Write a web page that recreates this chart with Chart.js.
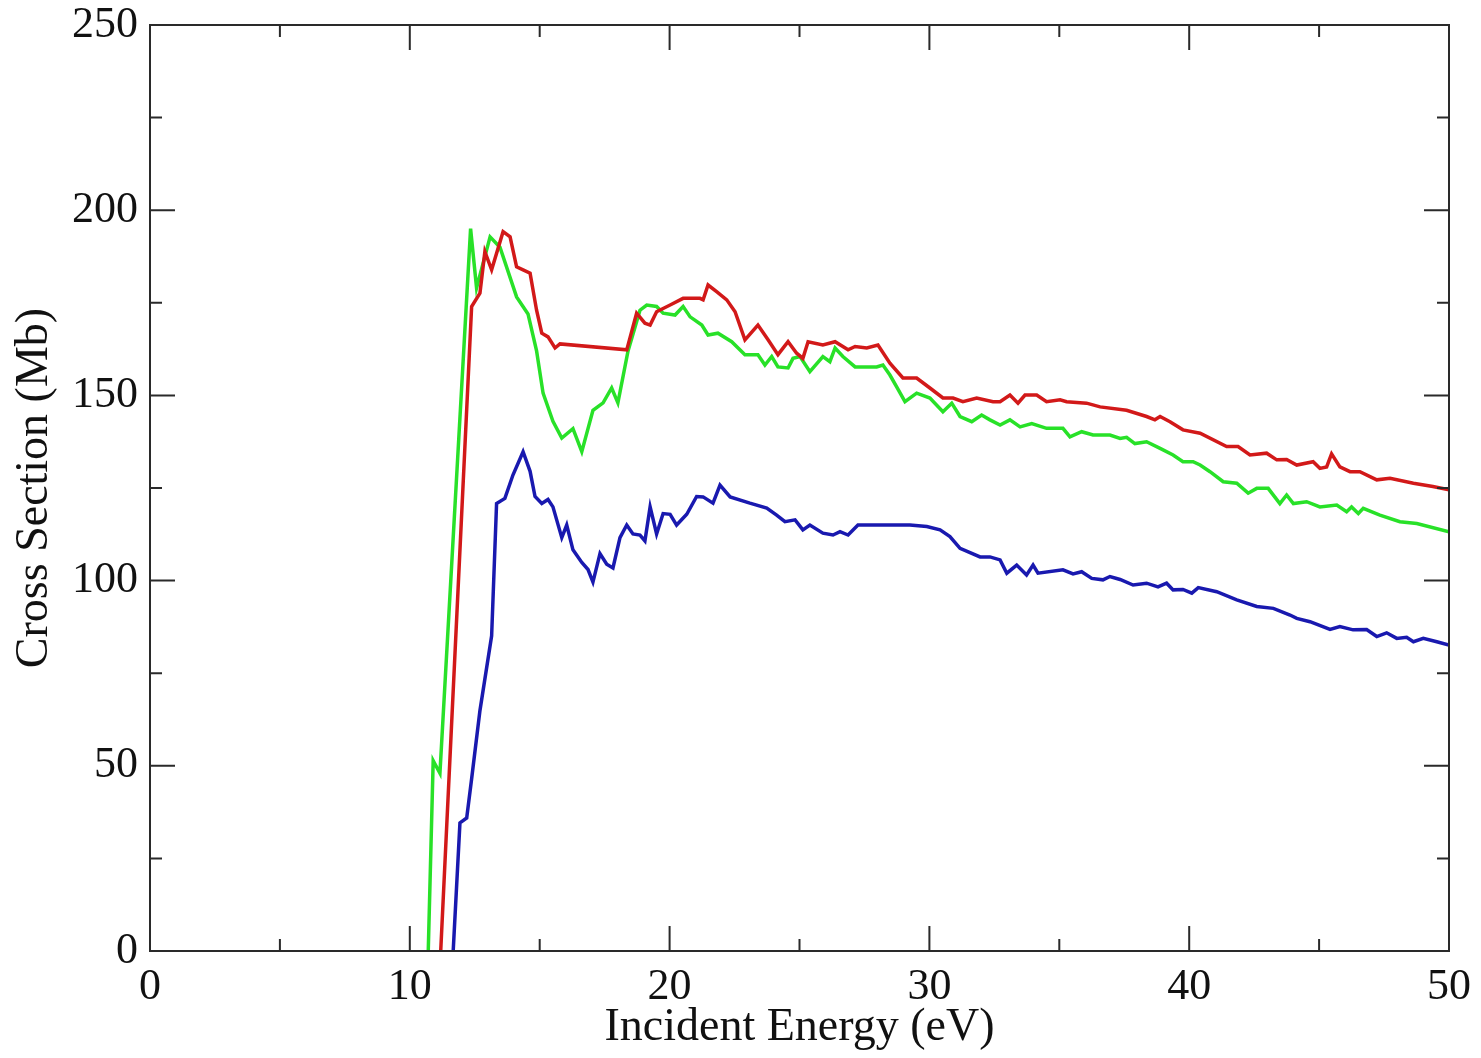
<!DOCTYPE html>
<html>
<head>
<meta charset="utf-8">
<script src="https://cdn.jsdelivr.net/npm/chart.js@4.4.1/dist/chart.umd.min.js"></script>
<style>
  html, body { margin: 0; padding: 0; background: #fff; }
  #wrap { width: 1481px; height: 1058px; position: relative; }
</style>
</head>
<body>
<div id="wrap"><canvas id="xsChart"></canvas></div>
<script>
// energies (eV) and cross sections (Mb)
const redE = [11.19, 12.38, 12.70, 12.89, 13.15, 13.59, 13.86, 14.11, 14.36, 14.63, 14.88, 15.08, 15.32, 15.59, 15.78,
  18.35, 18.73, 19.05, 19.25, 19.50, 20.02, 20.52, 21.17, 21.29, 21.48, 21.81, 22.20, 22.52, 22.90, 23.40, 23.79,
  24.17, 24.56, 24.89, 25.13, 25.33, 25.90, 26.37, 26.87, 27.14, 27.59, 28.02, 28.48, 28.98, 29.51, 30.02, 30.52,
  30.91, 31.29, 31.82, 32.45, 32.72, 33.10, 33.41, 33.68, 34.13, 34.51, 35.03, 35.28, 36.05, 36.57, 37.59, 38.36,
  38.68, 38.88, 39.26, 39.76, 40.42, 41.44, 41.88, 42.34, 42.98, 43.37, 43.75, 44.14, 44.77, 45.03, 45.29, 45.48,
  45.80, 46.19, 46.57, 47.22, 47.73, 48.63, 49.38, 50.0];
const redV = [0, 174, 177.6, 188.8, 183.9, 194.2, 192.8, 184.7, 183.9, 183, 173, 166.8, 165.8, 162.8, 163.9,
  162.3, 172.2, 169.5, 169, 172.6, 174.4, 176.2, 176.2, 175.8, 179.8, 178, 175.8, 172.6, 165, 169, 165,
  161, 164.5, 161.4, 160, 164.5, 163.6, 164.5, 162.3, 163.2, 162.8, 163.6, 158.7, 154.7, 154.7, 152, 149.3,
  149.3, 148.3, 149.3, 148.3, 148.3, 150.1, 147.9, 150.1, 150.1, 148.3, 148.8, 148.3, 147.9, 146.9, 146, 144.3,
  143.4, 144.3, 142.9, 140.7, 139.8, 136.2, 136.2, 133.9, 134.4, 132.6, 132.7, 131.2, 132.1, 130.3, 130.7, 134.2,
  130.7, 129.4, 129.4, 127.2, 127.6, 126.3, 125.4, 124.5];

const greenE = [10.71, 10.90, 11.16, 12.34, 12.57, 13.09, 13.47, 14.11, 14.55, 14.88, 15.13, 15.51, 15.85, 16.28, 16.62,
  17.05, 17.44, 17.77, 18.01, 18.40, 18.86, 19.12, 19.50, 19.75, 20.21, 20.52, 20.79, 21.24, 21.48, 21.86, 22.39,
  22.90, 23.40, 23.67, 23.93, 24.17, 24.56, 24.75, 25.02, 25.40, 25.90, 26.17, 26.37, 26.67, 27.14, 27.97, 28.21,
  28.48, 28.74, 29.06, 29.51, 30.02, 30.52, 30.86, 31.18, 31.63, 32.01, 32.33, 32.72, 33.10, 33.49, 33.94, 34.51,
  35.14, 35.41, 35.86, 36.30, 36.95, 37.34, 37.59, 37.91, 38.36, 38.88, 39.38, 39.76, 40.15, 40.42, 40.80, 41.31,
  41.83, 42.27, 42.60, 43.04, 43.49, 43.75, 44.01, 44.52, 45.03, 45.68, 46.06, 46.25, 46.51, 46.70, 47.34, 48.11,
  48.76, 50.0];
const greenV = [0, 51.4, 48, 195, 179, 192.8, 190, 176.6, 172, 162, 150.6, 143, 138.5, 141, 134.8,
  146, 148, 152, 148, 162, 173, 174.4, 174, 172.2, 171.7, 174, 171.2, 169, 166.3, 166.8, 164.5,
  161, 161, 158.2, 160.5, 157.7, 157.4, 160, 160.5, 156.4, 160.5, 159.1, 162.8, 160.5, 157.7, 157.7, 158.2,
  155.5, 152.3, 148.3, 150.6, 149.3, 145.6, 147.9, 144.3, 142.9, 144.7, 143.4, 142, 143.4, 141.5, 142.4, 141.1,
  141.1, 138.8, 140.2, 139.3, 139.3, 138.4, 138.7, 137, 137.5, 135.7, 133.9, 132.1, 132.1, 131.2, 129.4, 126.7,
  126.3, 123.6, 124.9, 124.9, 120.8, 123.1, 120.8, 121.3, 119.9, 120.4, 118.6, 119.9, 118.1, 119.5, 117.7, 115.9,
  115.4, 113.2];

const blueE = [11.67, 11.93, 12.19, 12.38, 12.70, 13.15, 13.34, 13.66, 13.97, 14.36, 14.63, 14.82, 15.08, 15.32, 15.51,
  15.85, 16.04, 16.28, 16.62, 16.86, 17.05, 17.32, 17.58, 17.82, 18.09, 18.35, 18.59, 18.86, 19.05, 19.25, 19.50,
  19.75, 20.02, 20.27, 20.66, 21.04, 21.29, 21.67, 21.94, 22.33, 23.09, 23.74, 24.12, 24.44, 24.83, 25.13, 25.40,
  25.90, 26.29, 26.56, 26.87, 27.25, 28.21, 29.25, 29.90, 30.41, 30.79, 31.18, 31.95, 32.33, 32.72, 32.98, 33.36,
  33.74, 33.99, 34.18, 35.14, 35.53, 35.86, 36.25, 36.68, 36.95, 37.34, 37.84, 38.36, 38.80, 39.13, 39.38, 39.76,
  40.10, 40.35, 41.06, 41.83, 42.60, 43.24, 43.88, 44.14, 44.65, 45.42, 45.80, 46.31, 46.83, 47.22, 47.60, 47.99,
  48.37, 48.63, 49.01, 49.53, 50.0];
const blueV = [0, 34.6, 35.9, 46.5, 64.9, 85.1, 120.8, 122.2, 128.5, 134.8, 129.5, 122.7, 120.8, 121.9, 119.9,
  111.6, 115, 108.3, 104.9, 103, 99.6, 107.3, 104.4, 103.4, 111.6, 115, 112.6, 112.3, 110.7, 119.9, 112.6,
  118.1, 117.9, 115, 117.9, 122.7, 122.6, 120.9, 125.8, 122.6, 120.9, 119.6, 117.7, 115.9, 116.4, 113.7, 115,
  112.8, 112.3, 113.2, 112.3, 115, 115, 115, 114.6, 113.7, 111.9, 108.7, 106.4, 106.4, 105.6, 102, 104.2,
  101.5, 104.2, 102, 102.9, 101.8, 102.4, 100.6, 100.2, 101.1, 100.3, 98.8, 99.3, 98.3, 99.3, 97.5, 97.6,
  96.6, 98.1, 97, 94.8, 93, 92.5, 90.7, 89.8, 88.9, 86.8, 87.6, 86.7, 86.8, 84.9, 85.9, 84.4,
  84.7, 83.5, 84.4, 83.5, 82.6];

// tick values
const xMajor = [0, 10, 20, 30, 40, 50];
const xMinor = [5, 15, 25, 35, 45];
const yMajor = [0, 50, 100, 150, 200, 250];
const yMinor = [25, 75, 125, 175, 225];

function toPoints(es, vs) {
    return es.map((e, i) => ({ x: e, y: vs[i] }));
}

const serif = '"Liberation Serif", "Times New Roman", serif';

// closed frame with inward ticks on all four sides
const frameTicks = {
    id: 'frameTicks',
    afterDatasetsDraw(chart) {
        const { ctx, chartArea: a, scales } = chart;
        const sx = scales.x, sy = scales.y;
        ctx.save();
        ctx.strokeStyle = '#2a2a2a';
        ctx.lineWidth = 2;
        ctx.beginPath();
        const tick = (vals, len) => {
            vals.forEach(v => {
                const px = sx.getPixelForValue(v);
                ctx.moveTo(px, a.bottom); ctx.lineTo(px, a.bottom - len);
                ctx.moveTo(px, a.top); ctx.lineTo(px, a.top + len);
            });
        };
        const ytick = (vals, len) => {
            vals.forEach(v => {
                const py = sy.getPixelForValue(v);
                ctx.moveTo(a.left, py); ctx.lineTo(a.left + len, py);
                ctx.moveTo(a.right, py); ctx.lineTo(a.right - len, py);
            });
        };
        tick(xMajor, 25); tick(xMinor, 12);
        ytick(yMajor, 25); ytick(yMinor, 12);
        ctx.stroke();
        ctx.strokeRect(a.left, a.top, a.right - a.left, a.bottom - a.top);
        ctx.restore();
    }
};

const lineStyle = { pointRadius: 0, borderWidth: 3.5, tension: 0, fill: false };

new Chart(document.getElementById('xsChart'), {
    type: 'line',
    data: {
        datasets: [
            { label: 'red', data: toPoints(redE, redV), borderColor: 'rgb(210,25,25)', ...lineStyle },
            { label: 'green', data: toPoints(greenE, greenV), borderColor: 'rgb(40,225,40)', ...lineStyle },
            { label: 'blue', data: toPoints(blueE, blueV), borderColor: 'rgb(25,25,175)', ...lineStyle }
        ]
    },
    options: {
        responsive: true,
        maintainAspectRatio: false,
        animation: false,
        layout: { padding: { top: 25, right: 32, left: 0, bottom: 0 } },
        plugins: { legend: { display: false }, tooltip: { enabled: false } },
        scales: {
            x: {
                type: 'linear', min: 0, max: 50,
                grid: { display: false, drawTicks: false },
                border: { display: false },
                ticks: { stepSize: 10, padding: 10, color: '#111', font: { family: serif, size: 44 } },
                title: { display: true, text: 'Incident Energy (eV)', color: '#111', padding: { top: 0, bottom: 2 }, font: { family: serif, size: 46 } },
                afterFit(scale) {
                    scale.height = 107;
                    scale.paddingLeft = 0; scale.paddingRight = 0;
                }
            },
            y: {
                type: 'linear', min: 0, max: 250,
                grid: { display: false, drawTicks: false },
                border: { display: false },
                ticks: { stepSize: 50, padding: 12, color: '#111', font: { family: serif, size: 44 } },
                title: { display: true, text: 'Cross Section (Mb)', color: '#111', padding: { top: 7, bottom: 0 }, font: { family: serif, size: 46 } },
                afterFit(scale) {
                    scale.width = 150;
                    scale.paddingTop = 0; scale.paddingBottom = 0;
                }
            }
        }
    },
    plugins: [frameTicks]
});
</script>
</body>
</html>
